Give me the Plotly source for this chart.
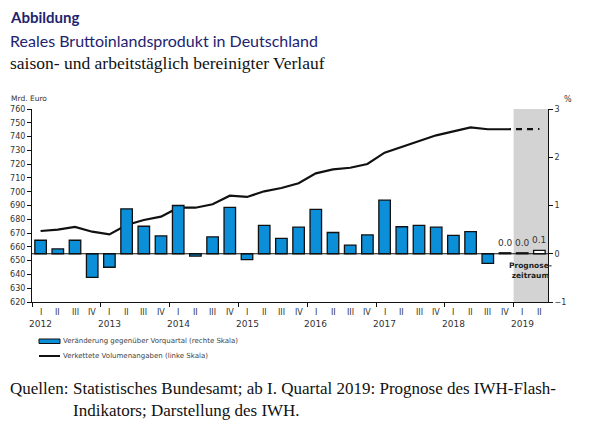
import plotly.graph_objects as go

quarters = ["I", "II", "III", "IV"] * 7 + ["I", "II"]
years = ["2012", "2013", "2014", "2015", "2016", "2017", "2018", "2019"]

# Veränderung gegenüber Vorquartal (%), rechte Skala
change = [0.28, 0.10, 0.28, -0.49, -0.28, 0.93, 0.57, 0.37,
          1.00, -0.05, 0.35, 0.96, -0.12, 0.59, 0.32, 0.55,
          0.92, 0.44, 0.18, 0.39, 1.11, 0.56, 0.59, 0.55,
          0.38, 0.46, -0.20, 0.02, 0.02, 0.07]
change_labels = [""] * 27 + ["0.0", "0.0", "0.1"]
forecast = [False] * 28 + [True, True]

# Verkettete Volumenangaben (Mrd. Euro), linke Skala
volume = [671.5, 672.5, 674.5, 671.0, 669.0, 675.9, 679.5, 681.9,
          688.4, 688.4, 690.9, 697.1, 696.2, 700.3, 702.7, 706.1,
          713.3, 716.2, 717.4, 720.1, 728.3, 732.4, 736.8, 740.9,
          743.8, 746.7, 745.3, 745.3, 745.3, 745.5]

x = list(range(len(quarters)))
n_hist = 28

W, H = 600, 440
OFF = 8  # page body margin
PW, PH = 516, 193
ML, MT = 32 - OFF, 109 - OFF
MR, MB = W - ML - PW, H - MT - PH


def px(xp):
    return (xp - OFF - ML) / PW


def py(yp):
    return (MT + PH - (yp - OFF)) / PH


BLUE = "#0a8fd8"
NAVY = "#22236e"
TXT = "#333333"
SERIF = "Liberation Serif"
LEFT = px(OFF)

fig = go.Figure()

fig.add_trace(go.Bar(
    x=x, y=change, yaxis="y2",
    marker=dict(color=["white" if f else BLUE for f in forecast],
                line=dict(color="#111111", width=1.3)),
    name="Veränderung gegenüber Vorquartal (rechte Skala)", showlegend=False,
))
fig.add_trace(go.Scatter(
    x=x[:n_hist], y=volume[:n_hist], mode="lines",
    line=dict(color="#111111", width=2.2),
    name="Verkettete Volumenangaben (linke Skala)", showlegend=False,
))
fig.add_trace(go.Scatter(
    x=x[n_hist - 1:], y=volume[n_hist - 1:], mode="lines",
    line=dict(color="#111111", width=2.2, dash="6px,5px"),
    showlegend=False,
))

shapes = [
    dict(type="rect", xref="x", yref="paper", x0=n_hist - 0.5, x1=len(x) - 0.5,
         y0=0, y1=1, fillcolor="#d3d3d3", line=dict(width=0), layer="below"),
    dict(type="line", xref="paper", yref="y2", x0=0, x1=1, y0=0, y1=0,
         line=dict(color="#111111", width=1.2), layer="above"),
    dict(type="rect", xref="paper", yref="paper", x0=px(39), x1=px(60),
         y0=py(343.5), y1=py(339), fillcolor=BLUE, line=dict(color="#111111", width=1)),
    dict(type="line", xref="paper", yref="paper", x0=px(39), x1=px(60),
         y0=py(356), y1=py(356), line=dict(color="#111111", width=2)),
]

ann = []
for i, q in enumerate(quarters):
    ann.append(dict(x=i, y=0, xref="x", yref="paper", text=q, showarrow=False,
                    yanchor="top", yshift=-4, font=dict(size=8, color=TXT)))
for k, yr in enumerate(years):
    ann.append(dict(x=4 * k, y=0, xref="x", yref="paper", text=yr, showarrow=False,
                    yanchor="top", yshift=-15, font=dict(size=9, color=TXT)))
for i, (v, t) in enumerate(zip(change, change_labels)):
    if t:
        ann.append(dict(x=i, y=max(v, 0), xref="x", yref="y2", text=t, showarrow=False,
                        yanchor="bottom", yshift=3, font=dict(size=9, color=TXT)))
ann.append(dict(x=28.5, y=-0.35, xref="x", yref="y2", text="<b>Prognose-<br>zeitraum</b>",
                showarrow=False, font=dict(size=7.5, color="#222222"), align="center"))
ann.append(dict(x=px(29), y=py(98), xref="paper", yref="paper", text="Mrd. Euro",
                showarrow=False, xanchor="center", yanchor="middle",
                font=dict(size=7.5, color=TXT)))
ann.append(dict(x=px(568), y=py(99), xref="paper", yref="paper", text="%",
                showarrow=False, xanchor="center", yanchor="middle",
                font=dict(size=8, color=TXT)))
ann.append(dict(x=px(61), y=py(341), xref="paper", yref="paper", xanchor="left",
                yanchor="middle", showarrow=False,
                text="Veränderung gegenüber Vorquartal (rechte Skala)",
                font=dict(size=7, color="#444444")))
ann.append(dict(x=px(61), y=py(356), xref="paper", yref="paper", xanchor="left",
                yanchor="middle", showarrow=False,
                text="Verkettete Volumenangaben (linke Skala)",
                font=dict(size=7, color="#444444")))
ann.append(dict(x=LEFT, y=py(17), xref="paper", yref="paper", xanchor="left",
                yanchor="middle", text="<b>Abbildung</b>", showarrow=False,
                font=dict(size=15, color=NAVY, family="Lato")))
ann.append(dict(x=LEFT, y=py(40), xref="paper", yref="paper", xanchor="left",
                yanchor="middle", text="Reales Bruttoinlandsprodukt in Deutschland",
                showarrow=False, font=dict(size=16, color=NAVY, family="Lato")))
ann.append(dict(x=LEFT, y=py(63), xref="paper", yref="paper", xanchor="left",
                yanchor="middle", text="saison- und arbeitstäglich bereinigter Verlauf",
                showarrow=False, font=dict(size=17.5, color="#111111", family=SERIF)))
ann.append(dict(x=LEFT, y=py(388), xref="paper", yref="paper", xanchor="left",
                yanchor="middle", text="Quellen:", showarrow=False,
                font=dict(size=17, color="#111111", family=SERIF)))
ann.append(dict(x=px(71), y=py(388), xref="paper", yref="paper", xanchor="left",
                yanchor="middle", showarrow=False,
                text="Statistisches Bundesamt; ab I. Quartal 2019: Prognose des IWH-Flash-",
                font=dict(size=17, color="#111111", family=SERIF)))
ann.append(dict(x=px(71), y=py(410), xref="paper", yref="paper", xanchor="left",
                yanchor="middle", showarrow=False,
                text="Indikators; Darstellung des IWH.",
                font=dict(size=17, color="#111111", family=SERIF)))

fig.update_layout(
    width=W, height=H,
    margin=dict(l=ML, r=MR, t=MT, b=MB),
    paper_bgcolor="white", plot_bgcolor="white",
    font=dict(family="DejaVu Sans", size=8, color=TXT),
    bargap=0.33,
    showlegend=False,
    annotations=ann,
    shapes=shapes,
    xaxis=dict(range=[-0.5, len(x) - 0.5], showgrid=False, zeroline=False,
               showline=True, linecolor="#111111", linewidth=1, automargin=False,
               tickmode="array", tickvals=[4 * k - 0.5 for k in range(8)],
               ticks="outside", ticklen=4, tickcolor="#111111", showticklabels=False),
    yaxis=dict(range=[620, 760], dtick=10, showgrid=False, zeroline=False,
               showline=True, linecolor="#111111", linewidth=1, automargin=False,
               ticks="outside", ticklen=4, tickcolor="#111111",
               tickfont=dict(size=8, color=TXT)),
    yaxis2=dict(range=[-1, 3], dtick=1, overlaying="y", side="right",
                showgrid=False, zeroline=False, showline=True, automargin=False,
                linecolor="#111111", linewidth=1, ticks="outside", ticklen=4,
                tickcolor="#111111", tickfont=dict(size=8, color=TXT)),
)

fig.write_html("out.html")
